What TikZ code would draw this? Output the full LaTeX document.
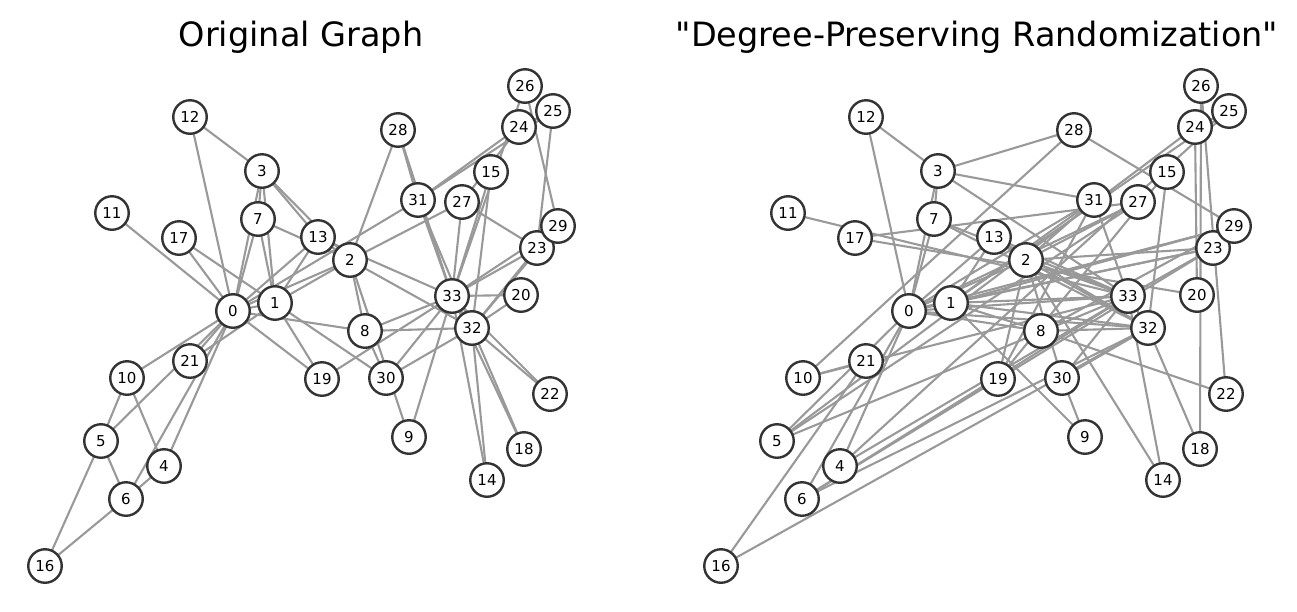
\documentclass[tikz,border=0pt]{standalone}
\usepackage{fontspec}
\newfontfamily\dvs{DejaVu Sans}
\usetikzlibrary{backgrounds}
\definecolor{edgegray}{HTML}{999999}
\definecolor{rimgray}{HTML}{333333}
\tikzset{
  vtx/.style={circle, draw=rimgray, line width=2.4pt, fill=white, minimum size=33.5pt, inner sep=0pt, font=\dvs\fontsize{15}{15}\selectfont},
  lnk/.style={draw=edgegray, line width=2.1pt},
  ttl/.style={font=\dvs\fontsize{33.5}{33.5}\selectfont, inner sep=0pt, anchor=base}
}
\begin{document}
\begin{tikzpicture}[x=1pt,y=-1pt]
\useasboundingbox (0,0) rectangle (1297,611);
\node[ttl] (t1) at (301,46) {Original Graph};
\node[ttl] (t2) at (977,46) {"Degree-Preserving Randomization"};
\foreach \i/\x/\y in {0/233/311, 1/275/303, 2/350/260, 3/262/171, 4/164/466, 5/101/441, 6/126/499, 7/258/219, 8/365/331, 9/409/437, 10/127/378, 11/112/213, 12/190/117, 13/318/237, 14/487/480, 15/491/172, 16/45/566, 17/179/238, 18/524/449, 19/322/379, 20/521/295, 21/190/361, 22/550/394, 23/537/248, 24/519/127, 25/553/111, 26/525/86, 27/462/202, 28/398/130, 29/558/226, 30/386/378, 31/418/200, 32/472/328, 33/452/296}{
  \node[vtx] (L\i) at (\x,\y) {\i};
  \node[vtx] (R\i) at (\x+676,\y) {\i};
}
\begin{pgfonlayer}{background}
\foreach \a/\b in {0/1,0/2,0/3,0/4,0/5,0/6,0/7,0/8,0/10,0/11,0/12,0/13,0/17,0/19,0/21,0/31,
  1/2,1/3,1/7,1/13,1/17,1/19,1/21,1/30,
  2/3,2/7,2/8,2/9,2/13,2/27,2/28,2/32,
  3/7,3/12,3/13,4/6,4/10,5/6,5/10,5/16,6/16,
  8/30,8/32,8/33,9/33,13/33,14/32,14/33,15/32,15/33,18/32,18/33,19/33,20/32,20/33,22/32,22/33,
  23/25,23/27,23/29,23/32,23/33,24/25,24/27,24/31,25/31,26/29,26/33,27/33,28/31,28/33,
  29/32,29/33,30/32,30/33,31/32,31/33,32/33}{
  \draw[lnk] (L\a.center) -- (L\b.center);
}
\foreach \a/\b in {12/3,12/0,11/33,3/28,3/31,3/7,3/33,3/0,17/27,17/20,20/24,18/32,18/26,26/22,22/8,
  14/33,14/2,9/30,9/1,16/21,16/32,10/28,10/21,10/33,5/0,5/33,8/0,5/24,5/27,
  4/33,4/0,25/1,25/4,6/0,7/33,6/32,6/33,6/23,7/0,7/32,25/24,28/29,29/0,29/1,29/8,
  15/32,15/19,23/0,23/2,23/33,30/32,23/1,27/0,27/2,19/2,19/31,30/2,30/33,8/1,8/32,
  13/0,13/33,13/32,13/1,13/2,2/0,2/31,2/33,2/32,1/31,1/33,1/32,31/0,31/33,0/33,0/32,32/33}{
  \draw[lnk] (R\a.center) -- (R\b.center);
}
\end{pgfonlayer}
\end{tikzpicture}
\end{document}
